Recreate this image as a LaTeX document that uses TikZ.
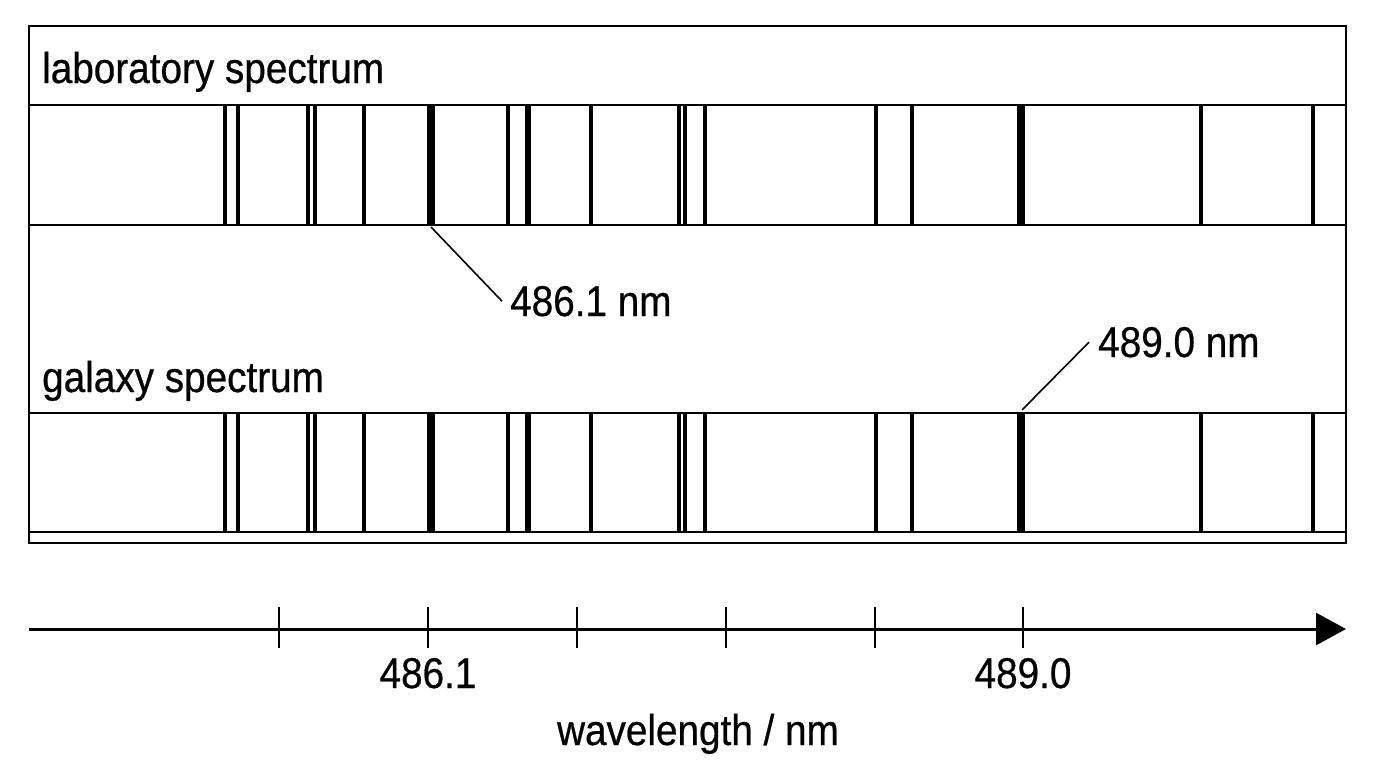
\documentclass[tikz,border=0pt]{standalone}
\usepackage{fontspec}
\setmainfont{Liberation Sans}[FakeStretch=0.9, FakeBold=0.6]
\usetikzlibrary{arrows.meta}
\tikzset{>=stealth}
\tikzstyle{frame} = [draw, line width=2pt]
\tikzstyle{specline} = [line width=3.2pt]
\tikzstyle{caption} = [font=\fontsize{43}{50}\selectfont, inner sep=0pt]
\tikzstyle{leader} = [draw, line width=1.6pt]
\tikzstyle{tick} = [draw, line width=2pt]

\begin{document}
\begin{tikzpicture}[x=1pt, y=-1pt]
		\useasboundingbox (0,0) rectangle (1376,768);
		%% Frame and bands
		\draw [frame] (29,26) rectangle (1346,543);
		\draw [frame] (29,105) -- (1346,105);
		\draw [frame] (29,225) -- (1346,225);
		\draw [frame] (29,413) -- (1346,413);
		\draw [frame] (29,532) -- (1346,532);
		%% Spectral lines
		\foreach \x in {225,238,308,315,364,508,591,679,685,705,876,912,1201,1313} {
			\draw [specline] (\x,105) -- (\x,225);
			\draw [specline] (\x,413) -- (\x,532);
		}
		\foreach \x/\w in {431/7.5pt,528/6.5pt,1021/7.5pt} {
			\draw [line width=\w] (\x,105) -- (\x,225);
			\draw [line width=\w] (\x,413) -- (\x,532);
		}
		\node [caption, anchor=base west] (labname) at (42,83) {laboratory spectrum};
		\node [caption, anchor=base west] (galname) at (42,392) {galaxy spectrum};
		\node [caption, anchor=base west] (lab486) at (510,316) {486.1 nm};
		\node [caption, anchor=base west] (gal489) at (1098,357) {489.0 nm};
		\coordinate (h486) at (431,227);
		\coordinate (h489) at (1022,410);
		%% Links
		\path [leader] (h486) -- ([xshift=-8pt]lab486.west);
		\path [leader] (h489) -- ([xshift=-9pt]gal489.west);
		%% Axis
		\coordinate (axstart) at (29,629);
		\coordinate (axend) at (1346,629);
		\draw [line width=3pt, -{Triangle[length=30pt,width=32pt]}] (axstart) -- (axend);
		\foreach \x [count=\i] in {279,428,577,726,875,1023}
			\draw [tick] (\x,607) -- (\x,648) coordinate (t\i);
		\node [caption, anchor=base] (v486) at (428,688) {486.1};
		\node [caption, anchor=base] (v489) at (1023,688) {489.0};
		\node [caption, anchor=base] (axname) at (698,745) {wavelength / nm};
\end{tikzpicture}
\end{document}
